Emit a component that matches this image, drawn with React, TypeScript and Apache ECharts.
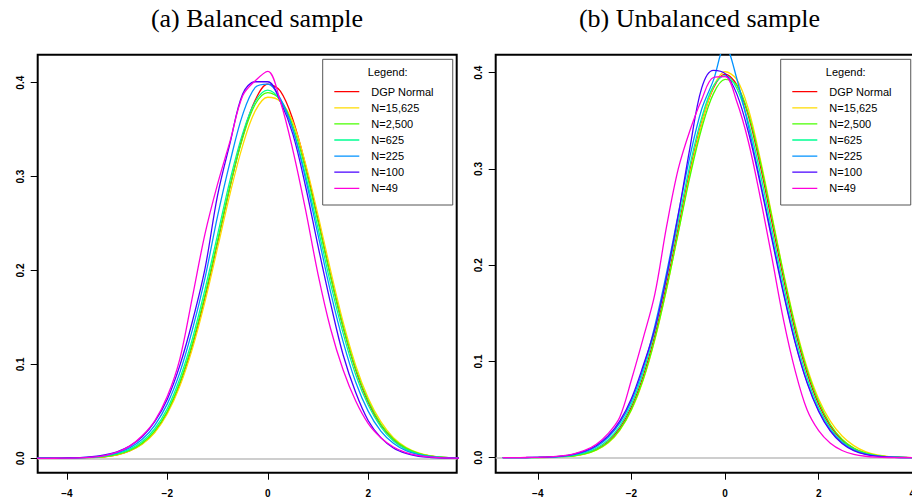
import React, { useEffect, useRef } from "react";
import * as echarts from "echarts";

// x grid shared by all density curves
const xGrid = [-4.75, -4.5, -4.25, -4, -3.75, -3.5, -3.25, -3, -2.75, -2.5, -2.25, -2, -1.75, -1.5, -1.25, -1, -0.75, -0.5, -0.25, 0, 0.25, 0.5, 0.75, 1, 1.25, 1.5, 1.75, 2, 2.25, 2.5, 2.75, 3, 3.25, 3.5, 3.75, 4, 4.25];

const seriesNames = ["DGP Normal", "N=15,625", "N=2,500", "N=625", "N=225", "N=100", "N=49"];
const seriesColors = ["#FF0000", "#FFDB00", "#49FF00", "#00FF92", "#0092FF", "#4900FF", "#FF00DB"];

// (a) Balanced sample
const balDGP = [0, 0, 0, 0.0001, 0.0003, 0.0007, 0.0017, 0.0038, 0.0079, 0.0155, 0.0283, 0.0488, 0.079, 0.12, 0.1714, 0.2299, 0.2897, 0.3429, 0.3814, 0.3984, 0.391, 0.3605, 0.3123, 0.2541, 0.1942, 0.1394, 0.094, 0.0596, 0.0355, 0.0198, 0.0104, 0.0051, 0.0024, 0.001, 0.0004, 0.0001, 0];
const bal15625 = [0, 0, 0, 0.0001, 0.0003, 0.0007, 0.0017, 0.0037, 0.0078, 0.015, 0.0275, 0.0475, 0.077, 0.117, 0.167, 0.224, 0.282, 0.333, 0.37, 0.3845, 0.38, 0.358, 0.314, 0.259, 0.2, 0.145, 0.099, 0.064, 0.039, 0.022, 0.0118, 0.0058, 0.0027, 0.0011, 0.0004, 0.0001, 0];
const bal2500 = [0, 0, 0, 0.0001, 0.0003, 0.0008, 0.0019, 0.0042, 0.0085, 0.0162, 0.0292, 0.05, 0.081, 0.1225, 0.174, 0.2315, 0.29, 0.341, 0.377, 0.3895, 0.382, 0.354, 0.308, 0.252, 0.1935, 0.14, 0.095, 0.061, 0.0365, 0.0205, 0.0108, 0.0053, 0.0024, 0.001, 0.0004, 0.0001, 0];
const bal625 = [0, 0, 0.0001, 0.0002, 0.0004, 0.001, 0.0023, 0.0049, 0.0096, 0.0178, 0.0315, 0.053, 0.085, 0.1275, 0.18, 0.238, 0.2965, 0.346, 0.38, 0.392, 0.381, 0.35, 0.302, 0.245, 0.186, 0.133, 0.089, 0.0565, 0.0335, 0.0185, 0.0096, 0.0046, 0.0021, 0.0009, 0.0003, 0.0001, 0];
const bal225 = [0, 0.0001, 0.0001, 0.0003, 0.0006, 0.0013, 0.0029, 0.0059, 0.0112, 0.0203, 0.0352, 0.058, 0.0915, 0.137, 0.192, 0.258, 0.316, 0.366, 0.395, 0.3985, 0.383, 0.35, 0.298, 0.238, 0.177, 0.124, 0.081, 0.05, 0.029, 0.016, 0.0082, 0.0039, 0.0017, 0.0007, 0.0003, 0.0001, 0];
const bal100 = [0, 0.0001, 0.0002, 0.0004, 0.0008, 0.0017, 0.0036, 0.007, 0.013, 0.023, 0.039, 0.063, 0.099, 0.146, 0.202, 0.28, 0.336, 0.388, 0.401, 0.401, 0.38, 0.345, 0.29, 0.226, 0.165, 0.11, 0.07, 0.04, 0.022, 0.011, 0.0052, 0.0022, 0.0009, 0.0003, 0.0001, 0, 0];
const bal49 = [0, 0, 0.0001, 0.0002, 0.0004, 0.0012, 0.003, 0.0065, 0.013, 0.024, 0.04, 0.066, 0.106, 0.172, 0.239, 0.292, 0.338, 0.386, 0.402, 0.412, 0.38, 0.328, 0.265, 0.196, 0.138, 0.094, 0.061, 0.037, 0.022, 0.012, 0.006, 0.0028, 0.0012, 0.0005, 0.0002, 0, 0];

// (b) Unbalanced sample
const unbDGP = [0, 0, 0, 0.0001, 0.0003, 0.0008, 0.0019, 0.0042, 0.0087, 0.0167, 0.0306, 0.0526, 0.0845, 0.127, 0.18, 0.2385, 0.298, 0.348, 0.384, 0.3985, 0.3875, 0.355, 0.304, 0.245, 0.186, 0.132, 0.0885, 0.0555, 0.0328, 0.0182, 0.0095, 0.0046, 0.0021, 0.0009, 0.0004, 0.0001, 0];
const unb15625 = [0, 0, 0, 0.0001, 0.0002, 0.0006, 0.0016, 0.0037, 0.0078, 0.0152, 0.0285, 0.0495, 0.0805, 0.1225, 0.175, 0.234, 0.295, 0.347, 0.385, 0.401, 0.393, 0.362, 0.311, 0.252, 0.192, 0.138, 0.094, 0.061, 0.038, 0.0225, 0.0125, 0.0062, 0.0028, 0.0011, 0.0004, 0.0001, 0];
const unb2500 = [0, 0, 0, 0.0001, 0.0003, 0.0007, 0.0017, 0.0039, 0.0081, 0.0157, 0.029, 0.0502, 0.0812, 0.1235, 0.1755, 0.2335, 0.292, 0.342, 0.378, 0.393, 0.387, 0.357, 0.308, 0.25, 0.1905, 0.136, 0.0915, 0.058, 0.0345, 0.0192, 0.01, 0.0049, 0.0022, 0.0009, 0.0003, 0.0001, 0];
const unb625 = [0, 0, 0.0001, 0.0002, 0.0004, 0.001, 0.0023, 0.0049, 0.0098, 0.0183, 0.0328, 0.0555, 0.0885, 0.132, 0.186, 0.245, 0.304, 0.353, 0.386, 0.397, 0.384, 0.348, 0.296, 0.237, 0.179, 0.126, 0.0835, 0.052, 0.0305, 0.0168, 0.0087, 0.0042, 0.0019, 0.0008, 0.0003, 0.0001, 0];
const unb225 = [0, 0.0001, 0.0001, 0.0003, 0.0006, 0.0014, 0.003, 0.006, 0.0115, 0.021, 0.036, 0.059, 0.0925, 0.137, 0.192, 0.253, 0.313, 0.362, 0.392, 0.428, 0.394, 0.344, 0.288, 0.23, 0.172, 0.12, 0.079, 0.049, 0.0285, 0.0155, 0.0079, 0.0038, 0.0017, 0.0007, 0.0002, 0.0001, 0];
const unb100 = [0, 0.0001, 0.0002, 0.0004, 0.0008, 0.0017, 0.0035, 0.0068, 0.0127, 0.0225, 0.038, 0.0615, 0.0955, 0.134, 0.188, 0.252, 0.322, 0.384, 0.4025, 0.399, 0.378, 0.338, 0.285, 0.227, 0.17, 0.119, 0.078, 0.048, 0.0275, 0.0147, 0.0073, 0.0034, 0.0015, 0.0006, 0.0002, 0.0001, 0];
const unb49 = [0.0001, 0.0001, 0.0002, 0.0003, 0.0008, 0.0018, 0.0038, 0.0075, 0.014, 0.025, 0.042, 0.081, 0.124, 0.17, 0.24, 0.3, 0.34, 0.372, 0.395, 0.396, 0.37, 0.328, 0.271, 0.208, 0.143, 0.09, 0.05, 0.028, 0.015, 0.0075, 0.0035, 0.0015, 0.0006, 0.0002, 0.0001, 0, 0];

const balancedSeries = [balDGP, bal15625, bal2500, bal625, bal225, bal100, bal49];
const unbalancedSeries = [unbDGP, unb15625, unb2500, unb625, unb225, unb100, unb49];

const xTicksLeft = [-4, -2, 0, 2];
const xTicksRight = [-4, -2, 0, 2, 4];
const yTicks = [0, 0.1, 0.2, 0.3, 0.4];
const panelTitles = ["(a) Balanced sample", "(b) Unbalanced sample"];
const legendHeading = "Legend:";

const SANS = '"Liberation Sans", Arial, Helvetica, sans-serif';
const SERIF = '"Liberation Serif", "Times New Roman", serif';
// thin horizontal bar icon, with tiny corner marks so the box is 25 x 12
const LEGEND_ICON = "path://M0,5.35H25V6.65H0Z M0,0H0.01V0.01H0Z M24.99,11.99H25V12H24.99Z";

const fmtX = (v: number) => (v < 0 ? "\u2212" + Math.abs(v) : String(v));
const fmtY = (v: number) => v.toFixed(1);

function makeXAxis(gridIndex: number, min: number, max: number, ticks: number[]) {
  return {
    gridIndex,
    type: "value",
    min,
    max,
    splitLine: { show: false },
    axisLine: { show: false, onZero: false },
    axisTick: { show: true, length: 7, customValues: ticks, lineStyle: { color: "#000", width: 1 } },
    axisLabel: {
      customValues: ticks,
      formatter: fmtX,
      fontFamily: SANS,
      fontSize: 10,
      fontWeight: "bold",
      color: "#000",
      margin: 16,
    },
  };
}

function makeYAxis(gridIndex: number, min: number, max: number) {
  return {
    gridIndex,
    type: "value",
    min,
    max,
    splitLine: { show: false },
    axisLine: { show: false, onZero: false },
    axisTick: { show: true, length: 7, customValues: yTicks, lineStyle: { color: "#000", width: 1 } },
    axisLabel: {
      customValues: yTicks,
      formatter: fmtY,
      rotate: 90,
      fontFamily: SANS,
      fontSize: 10,
      fontWeight: "bold",
      color: "#000",
      margin: 12,
    },
  };
}

function makeSeries(panel: number, sets: number[][]) {
  return sets.map((vals, k) => {
    const s: any = {
      type: "line",
      name: seriesNames[k],
      xAxisIndex: panel,
      yAxisIndex: panel,
      data: xGrid.map((x, i) => [x, vals[i]]),
      symbol: "none",
      smooth: 0.35,
      clip: true,
      silent: true,
      z: 2 + k,
      lineStyle: { width: 1.3, color: seriesColors[k] },
      itemStyle: { color: seriesColors[k] },
    };
    if (k === sets.length - 1) {
      s.markLine = {
        silent: true,
        symbol: ["none", "none"],
        label: { show: false },
        lineStyle: { color: "#BEBEBE", width: 1.5, type: "solid" },
        data: [{ yAxis: 0 }],
      };
    }
    return s;
  });
}

function makeLegend(left: number) {
  return {
    left,
    top: 59.3,
    orient: "vertical",
    data: seriesNames,
    selectedMode: false,
    icon: LEGEND_ICON,
    padding: [26.4, 19.1, 10.7, 11.6],
    itemWidth: 25,
    itemHeight: 12,
    itemGap: 4.1,
    borderColor: "#555",
    borderWidth: 1,
    borderRadius: 0,
    backgroundColor: "#fff",
    textStyle: { fontFamily: SANS, fontSize: 11, color: "#000", lineHeight: 12, padding: [0, 0, 0, 7] },
  };
}

export default function App() {
  const ref = useRef<HTMLDivElement>(null);
  useEffect(() => {
    if (!ref.current) return;
    const chart = echarts.init(ref.current, undefined, { renderer: "svg" });
    const option: any = {
      animation: false,
      backgroundColor: "#fff",
      grid: [
        { left: 37.7, top: 54.7, width: 419, height: 418, show: true, borderColor: "#000", borderWidth: 2, backgroundColor: "transparent" },
        { left: 495.7, top: 54.7, width: 435.3, height: 418, show: true, borderColor: "#000", borderWidth: 2, backgroundColor: "transparent" },
      ],
      xAxis: [makeXAxis(0, -4.58, 3.76, xTicksLeft), makeXAxis(1, -4.9, 4.4, xTicksRight)],
      yAxis: [makeYAxis(0, -0.0153, 0.4298), makeYAxis(1, -0.0156, 0.4187)],
      legend: [makeLegend(322.7), makeLegend(780.7)],
      series: [...makeSeries(0, balancedSeries), ...makeSeries(1, unbalancedSeries)],
      graphic: [
        { type: "text", x: 257, y: 18.5, z: 100, style: { text: panelTitles[0], align: "center", verticalAlign: "middle", fontFamily: SERIF, fontSize: 26, fill: "#000" } },
        { type: "text", x: 699.5, y: 18.5, z: 100, style: { text: panelTitles[1], align: "center", verticalAlign: "middle", fontFamily: SERIF, fontSize: 26, fill: "#000" } },
        { type: "text", x: 387.7, y: 71.7, z: 100, style: { text: legendHeading, align: "center", verticalAlign: "middle", fontFamily: SANS, fontSize: 11, fill: "#000" } },
        { type: "text", x: 845.7, y: 71.7, z: 100, style: { text: legendHeading, align: "center", verticalAlign: "middle", fontFamily: SANS, fontSize: 11, fill: "#000" } },
      ],
    };
    chart.setOption(option);
    return () => chart.dispose();
  }, []);
  return (
    <div style={{ position: "fixed", left: 0, top: 0, width: 912, height: 504, overflow: "hidden", background: "#fff" }}>
      <div ref={ref} style={{ width: 940, height: 504 }} />
    </div>
  );
}
